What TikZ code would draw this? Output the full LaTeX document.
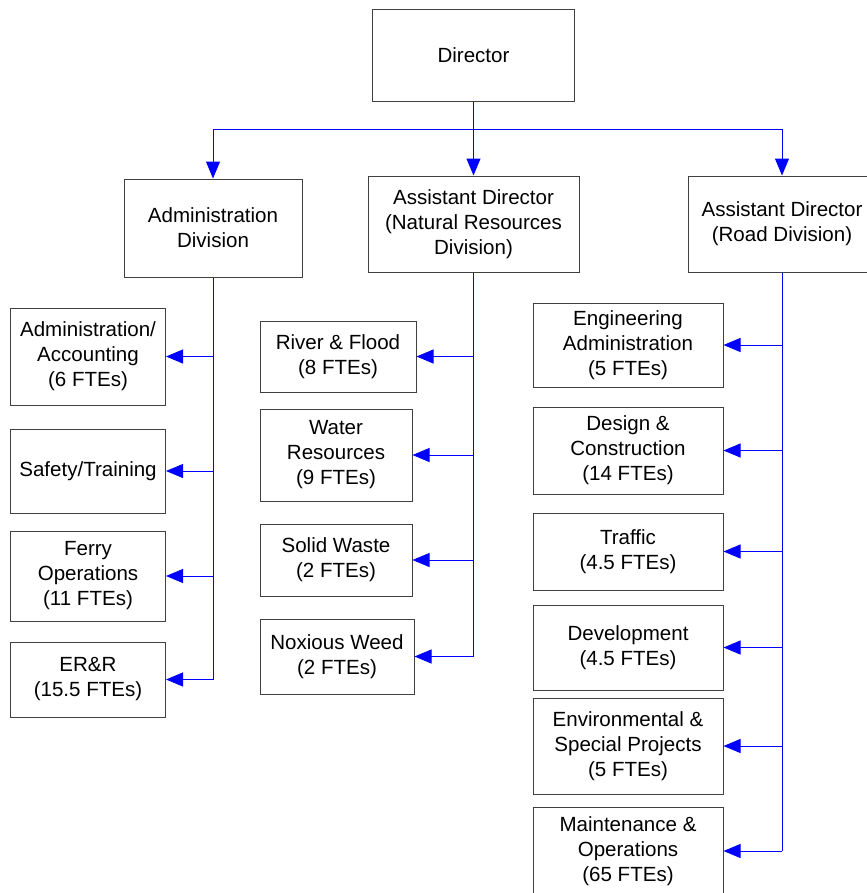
\documentclass[tikz,border=0pt]{standalone}
\usepackage{fontspec}
\setmainfont{Liberation Sans}
\usetikzlibrary{arrows.meta}
\tikzset{
  box/.style 2 args={draw=black!75, line width=0.75pt, inner sep=0pt, align=center,
    minimum width=#1*0.75pt, minimum height=#2*0.75pt,
    font=\fontsize{15.4}{18.75}\selectfont},
  link/.style={draw=blue, line width=0.75pt},
  arr/.style={link, -{Triangle[length=12.75pt, width=10.5pt]}}
}
\begin{document}
\begin{tikzpicture}[x=0.75pt, y=-0.75pt]
\useasboundingbox (0,0) rectangle (867,893);

\node[box={202}{92}] (dir) at (473.5,55) {Director};

\node[box={178}{98}] (adm) at (213,228) {Administration\\Division};
\node[box={211}{96}] (nrd) at (473.5,224) {Assistant Director\\(Natural Resources\\Division)};
\node[box={188}{96}] (rdd) at (782,224) {Assistant Director\\(Road Division)};

% administration
\node[box={155}{97}] (aa) at (88,356.5) {Administration/\\Accounting\\(6 FTEs)};
\node[box={155}{84}] (st) at (88,471) {Safety/Training};
\node[box={155}{90}] (fo) at (88,576) {Ferry\\Operations\\(11 FTEs)};
\node[box={155}{75}] (er) at (88,679.5) {ER\&R\\(15.5 FTEs)};

% natural resources
\node[box={156}{71}] (rf) at (338,356.5) {River \& Flood\\(8 FTEs)};
\node[box={152}{92}] (wr) at (336,455) {Water\\Resources\\(9 FTEs)};
\node[box={152}{72}] (sw) at (336,560) {Solid Waste\\(2 FTEs)};
\node[box={154}{75}] (nw) at (337,656.5) {Noxious Weed\\(2 FTEs)};

% road
\node[box={190}{84}] (ea) at (628,345) {Engineering\\Administration\\(5 FTEs)};
\node[box={190}{87}] (dc) at (628,450.5) {Design \&\\Construction\\(14 FTEs)};
\node[box={190}{77}] (tr) at (628,551.5) {Traffic\\(4.5 FTEs)};
\node[box={190}{85}] (dv) at (628,647.5) {Development\\(4.5 FTEs)};
\node[box={190}{96}] (es) at (628,746) {Environmental \&\\Special Projects\\(5 FTEs)};
\node[box={190}{88}] (mo) at (628,851) {Maintenance \&\\Operations\\(65 FTEs)};

\draw[link] (dir.south) -- ++(0,28) coordinate (bus);
\draw[arr] (bus) -| (adm.north);
\draw[arr] (bus) -- (nrd.north);
\draw[arr] (bus) -| (rdd.north);

\draw[link] (adm.south) -- (adm.south |- er.east);
\foreach \n in {aa,st,fo,er}
  \draw[arr] (adm.south |- \n.east) -- (\n.east);

\draw[link] (nrd.south) -- (nrd.south |- nw.east);
\foreach \n in {rf,wr,sw,nw}
  \draw[arr] (nrd.south |- \n.east) -- (\n.east);

\draw[link] (rdd.south) -- (rdd.south |- mo.east);
\foreach \n in {ea,dc,tr,dv,es,mo}
  \draw[arr] (rdd.south |- \n.east) -- (\n.east);
\end{tikzpicture}
\end{document}
